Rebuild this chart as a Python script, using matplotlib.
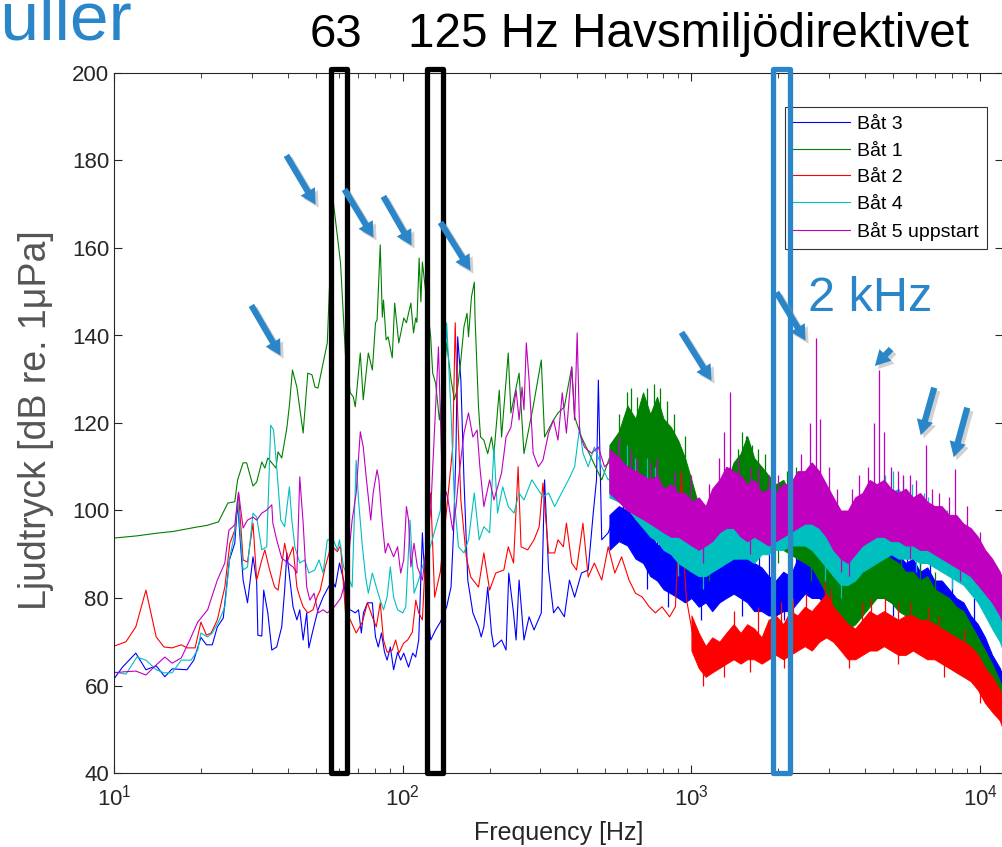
import numpy as np
import matplotlib.pyplot as plt
from matplotlib.patches import Rectangle, FancyArrowPatch
from matplotlib.transforms import IdentityTransform

plt.rcParams['font.family'] = ['Liberation Sans', 'DejaVu Sans']
plt.rcParams['mathtext.fontset'] = 'custom'
plt.rcParams['mathtext.rm'] = 'Liberation Sans'
plt.rcParams['mathtext.it'] = 'Liberation Sans:italic'

# ---- spectra: (frequency Hz, level dB) ----
# low frequency part drawn as a line, dense high frequency part as a band (low, high)

bat3_line = [(10, 61.5), (10.7, 64.2), (11.9, 67.4), (12.9, 63.6), (14, 64.5), (15, 62), (15.9, 63.8),
             (17.9, 63.6), (18.9, 65.8), (20, 71), (20.9, 69.3), (21.9, 69.3), (22.8, 73.4), (23.9, 75.4),
             (25.1, 88.7), (26.2, 92.5), (26.8, 101.7), (28, 84.1), (29, 78.9), (30.3, 89.4), (31.2, 83.7),
             (31.5, 71.5), (32.5, 71.3), (33, 81.8), (34.1, 76.6), (35.2, 68.1), (36.6, 68.8), (38.1, 73.4),
             (39, 81.8), (39.7, 90.3), (40, 88.2), (41.7, 78), (43, 75), (44, 77.3), (45.2, 70.4), (46.5, 76.6),
             (47.3, 68.6), (48.9, 72.7), (50.9, 77.3), (53, 80.2), (55.3, 82.5), (57, 84), (58.4, 82.5),
             (60.4, 88), (62.4, 84.1), (64.3, 77.3), (65.8, 77.3), (68.5, 76.6), (70.3, 77.3), (71.9, 72),
             (73.1, 76.6), (75.5, 78.9), (78.5, 78.9), (79, 76.6), (80.5, 71.1), (82.3, 68.8), (84.4, 72),
             (86.5, 67.6), (88.3, 65.8), (90.6, 68.8), (93, 63.6), (96, 67.6), (98.4, 65.8), (100.8, 67.4),
             (104.8, 64.2), (108.3, 67.4), (110.9, 66.5), (113.6, 70.4), (115.2, 81.8), (117, 94.9),
             (117.9, 90.3), (121, 80), (125, 70.4), (130, 72.7), (135, 74.5), (142, 78), (147, 82.5),
             (150, 95), (153, 114.5), (155, 139.7), (159, 129.8), (163, 107), (168, 84.1), (175, 76.6),
             (183, 73.4), (187, 71.1), (191, 73.4), (197, 82.5), (203, 72), (207, 68.8), (220, 70.4),
             (228, 68.1), (233, 85.7), (242, 76.6), (247, 70.4), (253, 84.1), (263, 70.4), (274, 75.7),
             (285, 72.7), (302, 76.6), (310, 107), (320, 86.4), (333, 76.6), (345, 78), (363, 75.7),
             (378, 84.1), (394, 80.2), (416, 85.7), (439, 86.4), (457, 99.4), (469, 107), (476, 129.8),
             (489, 93.3), (515, 94.9), (543, 99.4)]

bat1_line = [(10, 93.7), (12, 94.2), (14, 94.8), (16, 95.2), (19.3, 96.2), (21, 96.6), (23, 97.4),
             (24.8, 101.7), (26.2, 102), (26.8, 107), (28, 110.9), (28.8, 110.9), (30.3, 105.6), (31.2, 106.5),
             (32.5, 111.1), (33.3, 109.7), (34.1, 112), (36.4, 109.7), (37, 113.4), (38.1, 112), (39.7, 118.9),
             (40.5, 124), (41.5, 132.1), (43, 128.2), (45.2, 117.7), (46.9, 131.4), (48.5, 131), (49.7, 128.2),
             (50.9, 128), (53, 133.7), (54.8, 138.3), (55.3, 145.1), (56.5, 160), (57.5, 170.5), (60.9, 156.6),
             (63.4, 135.1), (65.8, 126.9), (67.4, 126), (68.5, 123.7), (71.3, 136), (73, 125.3), (76, 136),
             (78.5, 132.1), (80.5, 142.9), (81.5, 143.5), (83.6, 160.7), (85, 144.2), (85.8, 148.1),
             (87.6, 139), (89, 139.7), (92, 134.9), (93.8, 147.4), (96.9, 138.3), (99, 141.3), (100.9, 144),
             (103, 142.9), (106.7, 147.4), (109, 140.6), (110.9, 144), (112, 143), (114, 157.7), (115.6, 147.7),
             (117, 156.8), (121, 148), (125, 139.7), (127, 131.4), (130, 129.1), (134, 120.7), (138, 128),
             (142, 138.3), (147, 130), (151, 125.3), (155, 128.2), (159, 134.4), (163, 142), (167, 145.1),
             (169, 139.7), (173, 148.8), (177, 152.2), (178, 144.2), (183, 123.7), (186, 116.8), (191, 116.1),
             (197, 113), (203, 116.8), (207, 113), (216, 127.5), (220, 116.8), (232, 136), (237, 122.3),
             (253, 131.4), (263, 113), (283, 123.7), (302, 134.4), (310, 116.8), (333, 120.7), (345, 122.3),
             (363, 123.7), (385, 132.8), (394, 121.4), (416, 116.8), (450, 112), (489, 107), (520, 112)]

bat2_line = [(10, 69), (11, 70), (11.9, 73.4), (12.9, 81.8), (14, 71.1), (14.9, 68.8), (15.9, 68.6),
             (17.1, 69.3), (17.9, 68.6), (19.1, 68.6), (20, 74.5), (20.9, 71.5), (21.7, 72), (22.8, 75),
             (24.2, 82.5), (25.2, 92.5), (26.2, 95.5), (27, 104), (28, 88.7), (29, 88.2), (30.3, 97.1),
             (31.2, 84.1), (32.5, 88.7), (33.3, 91), (34.6, 86.4), (36, 82.5), (37, 81.8), (38.1, 87.5),
             (39, 92.5), (40, 88.7), (41.7, 91.7), (43, 82.5), (44, 80.2), (45.2, 78), (46.9, 76.6),
             (48.9, 77.3), (50.5, 80.2), (51.8, 81.8), (53.9, 87.1), (56.5, 92), (59.4, 90.6), (60.9, 92),
             (63.4, 76.6), (65.8, 75), (69, 72), (72.5, 74.5), (75.5, 78.9), (78.5, 75.7), (81, 73.4),
             (83.6, 78.9), (85.8, 70.4), (88.3, 67.6), (92, 68.1), (94.5, 70.4), (97, 67.4), (100.8, 69.7),
             (104, 70.4), (108, 72.2), (111, 79.5), (113.6, 76.6), (117, 75), (121, 95), (125, 104),
             (129, 80.2), (135, 86), (143, 102.4), (149, 114.5), (152, 142.9), (155, 122.3), (159, 102.4),
             (166, 89.4), (172, 84.8), (183, 82.5), (191, 90.3), (200, 81.8), (210, 85.7), (224, 86.4),
             (232, 91.7), (242, 88), (251, 110), (257, 91.7), (271, 91), (285, 93.3), (297, 96.3),
             (306, 106.3), (320, 90.3), (336, 90.3), (345, 93.3), (360, 91.7), (369, 97.1), (385, 88),
             (400, 86.4), (421, 97.1), (439, 84.8), (461, 88), (489, 84.1), (515, 91.7), (543, 85.7),
             (573, 89.4), (608, 84.1), (640, 81.1), (676, 80.2), (714, 78), (750, 76.6), (791, 78),
             (840, 75.7), (880, 78), (905, 95), (925, 109), (940, 90), (960, 80), (980, 76.6), (1020, 70)]

bat4_line = [(10, 63.1), (11, 62.6), (12, 66.5), (12.9, 65.8), (14, 63.6), (14.9, 62.9), (15.9, 62.9),
             (17.1, 65.8), (18.5, 65.8), (19.5, 68.1), (20, 72), (21.1, 71.1), (21.9, 72), (23.2, 75),
             (24.2, 78), (25.2, 89.4), (26.2, 94.9), (26.8, 102.9), (28, 86.4), (29, 87.1), (30.3, 99.4),
             (31.2, 98.5), (32.5, 91), (33.8, 91.7), (34.9, 119.5), (35.7, 118.4), (36.6, 110), (37.8, 97.8),
             (39, 96.3), (40.5, 105.4), (41.3, 97.8), (42.3, 91.7), (44, 88), (45.8, 88.7), (47.3, 85.7),
             (49.6, 86.4), (51.3, 88.7), (53, 85.7), (54.8, 93.3), (57.5, 93.3), (59.4, 91), (60.4, 93.3),
             (62.4, 87.1), (64.8, 84.8), (66.8, 82.5), (69, 111.5), (70.3, 102.4), (72.5, 91.7), (74.4, 84.8),
             (76, 81.1), (78.5, 85.7), (81, 82.5), (83.6, 79.5), (85.8, 77.3), (88.3, 80.2), (90.6, 87.1),
             (93, 80.2), (96, 77.3), (100, 76.6), (102.5, 78), (106, 97.8), (109.5, 81.1), (113.6, 84.1),
             (117, 87.1), (125, 92), (135, 100), (142, 142.9), (147, 122.3), (151, 102.4), (156, 91.7),
             (163, 90.3), (169, 93.3), (177, 104), (184, 93.3), (191, 96.3), (200, 94.9), (207, 114.5),
             (213, 99.4), (222, 105.4), (232, 100.9), (243, 99.4), (253, 104), (263, 102.4), (280, 107),
             (295, 104.7), (306, 103.1), (320, 104), (336, 100.9), (355, 104), (375, 107), (394, 110),
             (410, 119), (421, 113.1), (439, 110), (461, 114.5), (489, 110), (515, 107), (543, 108)]

bat5_line = [(10, 62.9), (10.7, 63.1), (11.9, 63.3), (12.9, 62.4), (14, 64.7), (15, 66.5), (15.9, 65.1),
             (17.1, 66.3), (18.3, 70.4), (19.5, 74.5), (21.1, 77.3), (22.8, 84.1), (24.2, 88), (25, 95.5),
             (26.2, 96.7), (27, 104.2), (28, 96), (29, 97.8), (30.3, 98.5), (31.2, 97.8), (32.5, 99.4),
             (33.8, 100.1), (35.2, 101.3), (35.5, 97.1), (36.6, 93.3), (38.1, 89.1), (39.7, 88.2), (41.7, 87.1),
             (43, 85.7), (44, 107.7), (45.2, 97.1), (46.5, 82.5), (47.7, 79.5), (49.3, 81.1), (50.9, 76.6),
             (53, 77.3), (54.8, 76.6), (58, 78), (61, 80), (64, 85), (66.8, 97.8), (69, 104), (71.3, 118),
             (73, 114.5), (74.9, 107), (77.5, 97.8), (79, 104), (81.5, 109.3), (82.7, 107), (85, 97.1),
             (87, 90.3), (89, 92.5), (93, 89.4), (96, 91.7), (98.4, 85.7), (100.8, 88.7), (103, 100.9),
             (104.8, 97.8), (106.7, 87.1), (109.4, 92.5), (112.4, 87.1), (117, 84.1), (125, 100), (133, 137.4),
             (137, 107), (143, 103.1), (149, 95.5), (153, 100.9), (156, 107), (163, 117.7), (169, 122.3),
             (175, 116.8), (181, 118.4), (185, 110), (191, 100.9), (200, 107), (207, 102.4), (220, 108.6),
             (228, 116.8), (237, 119), (247, 127.5), (253, 120.7), (259, 128.2), (263, 123), (268, 138.3),
             (274, 129.8), (283, 113.1), (295, 110), (306, 111.5), (320, 117.7), (333, 120.7), (345, 116.1),
             (357, 126.9), (369, 117.7), (385, 132.8), (394, 120.7), (402, 140.6), (410, 117.7), (426, 114.5),
             (450, 113.1), (476, 114.5), (500, 110), (529, 111.5)]

# band envelopes on a shared frequency list
band_f = [520, 560, 600, 640, 680, 720, 760, 800, 850, 900, 950, 1000, 1060, 1120, 1180, 1250, 1320,
          1400, 1480, 1560, 1650, 1750, 1850, 1960, 2080, 2200, 2330, 2470, 2610, 2770, 2930, 3100,
          3290, 3480, 3690, 3910, 4140, 4380, 4640, 4920, 5210, 5520, 5850, 6190, 6560, 6950, 7360,
          7800, 8260, 8750, 9270, 9820, 10400, 11000, 11700, 12000]

bat3_lo = [91, 93, 92, 89, 88, 85, 84, 82, 81, 80, 79, 80, 78, 79, 77, 79, 80, 81, 80, 79, 77, 77, 76,
           76, 77, 77, 79, 81, 80, 80, 78, 79, 76, 75, 77, 79, 81, 80, 80, 79, 78, 78, 77, 76, 75, 74,
           73, 72, 70, 68, 66, 64, 61, 58, 55, 53]
bat3_hi = [99, 101, 100, 98, 96, 95, 92, 93, 90, 92, 90, 93, 89, 91, 88, 92, 90, 94, 91, 92, 88, 87,
           85, 84, 86, 85, 89, 90, 91, 88, 95, 92, 89, 87, 92, 94, 97, 94, 95, 91, 90, 88, 89, 86, 87,
           84, 84, 82, 80, 79, 76, 74, 71, 67, 64, 62]

bat1_lo = [104, 104, 105, 105, 104, 103, 102, 100, 98, 95, 92, 90, 88, 87, 88, 89, 91, 93, 95, 96, 95,
           94, 92, 92, 91, 90, 89, 88, 87, 84, 81, 78, 75, 73, 74, 76, 78, 80, 80, 79, 77, 76, 75, 74,
           74, 72, 71, 70, 68, 67, 65, 62, 59, 56, 53, 51]
bat1_hi = [115, 118, 124, 121, 127, 122, 126, 121, 119, 116, 112, 107, 101, 99, 100, 103, 106, 111,
           113, 117, 112, 110, 108, 106, 107, 104, 105, 103, 100, 96, 92, 89, 86, 84, 86, 87, 89, 91,
           90, 89, 88, 86, 86, 84, 85, 82, 81, 80, 78, 77, 74, 71, 68, 65, 61, 59]

bat2_lo = [68, 64, 62, 63, 64, 65, 66, 65, 66, 66, 65, 66, 67, 66, 67, 68, 69, 68, 70, 71, 70, 68, 66,
           66, 67, 68, 68, 69, 68, 67, 67, 68, 67, 66, 66, 65, 64, 63, 62, 61, 59, 56, 54, 52, 50]
bat2_hi = [76, 72, 69, 71, 70, 72, 74, 72, 74, 73, 71, 75, 76, 74, 77, 76, 78, 77, 79, 81, 78, 76, 74,
           73, 75, 77, 76, 77, 76, 75, 76, 76, 75, 75, 74, 73, 72, 71, 70, 69, 67, 64, 62, 59, 57]

bat4_lo = [103, 102, 101, 98, 96, 94, 93, 91, 90, 88, 87, 86, 85, 85, 86, 87, 88, 89, 89, 89, 88, 90,
           90, 91, 91, 92, 92, 92, 91, 89, 87, 85, 83, 83, 84, 86, 87, 88, 89, 90, 89, 89, 89, 88, 88,
           87, 86, 85, 84, 83, 81, 79, 76, 73, 70, 68]
bat4_hi = [110, 112, 109, 107, 106, 104, 106, 103, 101, 100, 98, 97, 96, 95, 97, 98, 100, 101, 100,
           102, 99, 101, 100, 101, 103, 102, 104, 103, 102, 100, 97, 95, 93, 94, 95, 97, 99, 101, 103,
           104, 105, 102, 103, 100, 99, 97, 97, 95, 94, 93, 91, 88, 85, 82, 78, 76]

bat5_lo = [104, 102, 100, 99, 98, 97, 96, 95, 94, 94, 93, 92, 91, 92, 93, 95, 96, 96, 94, 93, 94, 93,
           92, 93, 94, 95, 96, 97, 97, 96, 94, 91, 89, 88, 90, 92, 93, 94, 94, 93, 93, 92, 92, 91, 91,
           90, 89, 88, 87, 86, 85, 83, 81, 79, 76, 74]
bat5_hi = [114, 112, 110, 109, 108, 107, 108, 105, 106, 104, 104, 102, 103, 101, 105, 107, 110, 109,
           108, 106, 107, 104, 105, 104, 106, 106, 109, 109, 111, 109, 106, 103, 100, 100, 103, 104,
           107, 106, 107, 105, 104, 105, 103, 104, 102, 101, 101, 99, 99, 97, 96, 94, 91, 89, 86, 84]

# spikes sticking up out of the bands (f, top) and dips below them (f, bottom)
bat3_spikes = [(580, 103), (610, 104), (660, 101), (720, 98), (760, 97), (900, 96), (1010, 97),
               (1150, 95), (1230, 96), (1300, 96), (1420, 97), (1720, 92), (1850, 90), (2300, 92),
               (2560, 94), (2950, 100), (3200, 96), (3450, 92), (3800, 97), (4000, 99), (4250, 101),
               (4700, 99), (5200, 94), (5600, 93), (6200, 92), (6700, 91), (8000, 85), (9500, 80)]
bat1_spikes = [(560, 122), (600, 127), (620, 128), (650, 126), (700, 128), (740, 129), (780, 128),
               (820, 125), (870, 122), (950, 117), (1350, 110), (1450, 114), (1500, 118), (1540, 117),
               (1620, 115), (1700, 114), (1800, 113), (2150, 109), (2300, 110), (2450, 107), (2700, 103),
               (3900, 91), (4000, 93), (4400, 95), (4500, 93), (4800, 94), (5300, 91), (6200, 89),
               (7000, 86)]
bat2_spikes = [(1400, 77), (1700, 78), (1900, 80), (2050, 79), (2250, 80), (2500, 81), (2900, 84),
               (3050, 82), (3900, 79), (4200, 80), (4700, 80), (5200, 79), (5700, 79), (6600, 78),
               (7200, 76), (8800, 73)]
bat4_spikes = [(560, 117), (600, 115), (640, 112), (700, 112), (750, 110), (850, 106), (1000, 101),
               (1200, 101), (1400, 104), (1560, 106), (1800, 104), (2100, 106), (2300, 108), (2500, 106),
               (3700, 98), (4100, 104), (4700, 108), (5000, 109), (5400, 107), (5800, 106), (6400, 104),
               (6600, 103), (7700, 100), (9000, 96)]
bat5_spikes = [(560, 117), (620, 114), (650, 112), (720, 111), (760, 112), (880, 109), (1000, 108),
               (1150, 106), (1250, 112), (1300, 118), (1355, 127), (1450, 112), (1600, 110), (1700, 110),
               (1850, 108), (2000, 108), (2200, 110), (2400, 113), (2580, 120), (2705, 139.5), (2790, 121),
               (3000, 110), (3200, 105), (3600, 105), (3800, 108), (4100, 110), (4300, 120), (4450, 132),
               (4650, 118), (4900, 110), (5200, 109), (5400, 108), (5700, 108), (6000, 107), (6490, 115),
               (6800, 105), (7200, 104), (7800, 103), (8180, 109.5), (9000, 101), (10000, 95)]

bat3_dips = [(700, 82), (830, 78), (1080, 75), (1500, 76), (1900, 74), (2100, 75), (3400, 73),
             (5000, 76), (7000, 71), (9000, 65)]
bat1_dips = [(1050, 85), (1150, 84), (2000, 88), (2600, 84), (3400, 71), (3600, 72), (6000, 72),
             (8000, 67)]
bat2_dips = [(1100, 60), (1300, 62), (1600, 63), (2100, 64), (3500, 64), (5200, 65), (7500, 62),
             (10000, 56)]
bat4_dips = [(900, 85), (1100, 82), (2900, 84), (3300, 80), (6000, 86), (8000, 82)]
bat5_dips = [(1100, 88), (1600, 90), (3300, 86), (3500, 85), (5700, 89), (8500, 84)]

labels = ['Båt 3', 'Båt 1', 'Båt 2', 'Båt 4', 'Båt 5 uppstart']
colors = ['#0000ff', '#008000', '#ff0000', '#00bfbf', '#bf00bf']

blue = '#2a86c8'
ink = '#262626'

fig = plt.figure(figsize=(10.02, 8.47), dpi=100)
ax = fig.add_axes([114 / 1002, 74 / 847, 889 / 1002, 700 / 847])

lines = [bat3_line, bat1_line, bat2_line, bat4_line, bat5_line]
bands = [(band_f, bat3_lo, bat3_hi), (band_f, bat1_lo, bat1_hi), (band_f[11:], bat2_lo, bat2_hi),
         (band_f, bat4_lo, bat4_hi), (band_f, bat5_lo, bat5_hi)]
spikes = [bat3_spikes, bat1_spikes, bat2_spikes, bat4_spikes, bat5_spikes]
dips = [bat3_dips, bat1_dips, bat2_dips, bat4_dips, bat5_dips]

for i in range(5):
    z = 2 + i * 0.1
    f, db = np.array(lines[i]).T
    ax.plot(f, db, color=colors[i], lw=0.8, label=labels[i], zorder=z)
    fb, lo, hi = bands[i]
    ax.fill_between(fb, lo, hi, color=colors[i], lw=0.7, zorder=z)
    sf, stop = np.array(spikes[i]).T
    ax.vlines(sf, np.interp(sf, fb, hi) - 2, stop, color=colors[i], lw=0.9, zorder=z)
    df, dbot = np.array(dips[i]).T
    ax.vlines(df, dbot, np.interp(df, fb, lo) + 2, color=colors[i], lw=0.9, zorder=z)

ax.set_xscale('log')
ax.set_xlim(10, 12000)
ax.set_ylim(40, 200)
ax.set_yticks(np.arange(40, 201, 20))
ax.tick_params(which='both', direction='in', top=True, right=True, colors=ink, labelsize=16)
ax.tick_params(which='major', length=6, width=0.8)
ax.tick_params(which='minor', length=3.5, width=0.6)
ax.tick_params(axis='x', pad=8)
for s in ax.spines.values():
    s.set_color(ink)
    s.set_linewidth(0.8)

fig.text(559 / 1002, 1 - 833 / 847, 'Frequency [Hz]', ha='center', va='center', fontsize=18, color=ink)
fig.text(36 / 1002, 1 - 420 / 847, 'Ljudtryck [dB re. 1μPa]', rotation=90, ha='center', va='center',
         fontsize=27, color='#555555')

leg = ax.legend(loc='upper right', bbox_to_anchor=((987 - 114) / 889, 1 - 34 / 700), borderaxespad=0,
                fontsize=14, handlelength=2.95, handletextpad=0.35, labelspacing=0.47, borderpad=0.42,
                fancybox=False, edgecolor='#333333', framealpha=1)
leg.get_frame().set_linewidth(0.8)

# octave band boxes (Havsmiljödirektivet) and 2 kHz box
for f0, f1, c in [(56.4, 64.1, 'black'), (121.7, 138.4, 'black'), (1923, 2203, blue)]:
    ax.add_patch(Rectangle((f0, 40.1), f1 - f0, 201 - 40.1, fill=False, ec=c, lw=3.8,
                           joinstyle='round', clip_on=False, zorder=10))

# slide arrows (pixel positions)
tails = [(250, 303), (285, 153), (343, 187), (382, 194), (439, 220), (680, 330), (775, 290), (893, 347),
         (935, 385), (968, 405)]
heads = [(282, 358), (317, 207), (375, 240), (413, 248), (472, 273), (713, 383), (807, 343), (873, 368),
         (920, 438), (953, 460)]
for (x0, y0), (x1, y1) in zip(tails, heads):
    for dx, dy, col, a in [(3, -3, '#9a9a9a', 0.45), (0, 0, blue, 1.0)]:
        arr = FancyArrowPatch((x0 + dx, 847 - y0 + dy), (x1 + dx, 847 - y1 + dy),
                              arrowstyle='simple,head_length=1.1,head_width=1.2,tail_width=0.45',
                              mutation_scale=10, color=col, alpha=a, lw=0,
                              transform=IdentityTransform(), zorder=11)
        fig.add_artist(arr)

fig.text(310 / 1002, 1 - 47 / 847, '63', fontsize=34, va='baseline', color='black')
fig.text(408 / 1002, 1 - 47 / 847, '125 Hz Havsmiljödirektivet', fontsize=34.3, va='baseline',
         color='black')
fig.text(808 / 1002, 1 - 311 / 847, '2 kHz', fontsize=35, va='baseline', color=blue)
fig.text(132 / 1002, 1 - 40 / 847, 'Buller', fontsize=50, ha='right', va='baseline', color=blue)

fig.savefig('out.png', dpi=100)
